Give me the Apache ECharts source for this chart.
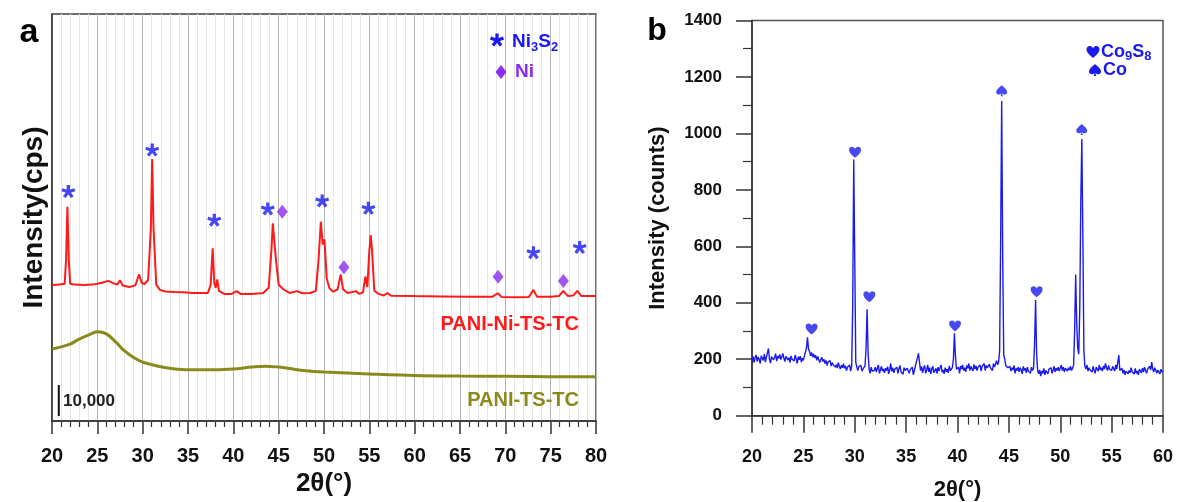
<!DOCTYPE html>
<html><head><meta charset="utf-8">
<script src="https://cdn.jsdelivr.net/npm/echarts@6/dist/echarts.min.js"></script>
<style>html,body{margin:0;padding:0;background:#fff}#c{width:1177px;height:502px}</style>
</head><body><div id="c"></div>
<script>
// ---------- Panel a : PANI-Ni-TS-TC (red) and PANI-TS-TC (olive), intensity in cps ----------
const redX = [20.0,20.8,21.4,21.55,21.7,21.85,22.0,22.5,23.5,24.5,25.5,26.2,26.8,27.2,27.5,27.8,28.5,29.2,29.6,29.9,30.2,30.6,30.9,31.05,31.2,31.5,31.9,32.5,33.5,34.5,35.5,36.5,37.2,37.5,37.72,37.9,38.05,38.23,38.4,39.0,39.8,40.37,40.8,42.0,43.3,43.9,44.2,44.35,44.5,44.7,45.0,45.5,46.2,47.0,47.6,48.5,49.1,49.4,49.65,49.85,50.05,50.3,50.6,51.0,51.5,51.84,52.1,52.6,53.1,53.5,53.9,54.3,54.56,54.78,55.0,55.15,55.3,55.55,56.0,56.6,56.98,57.4,60.0,63.0,66.0,68.6,69.15,69.6,71.0,72.6,73.09,73.5,75.0,75.9,76.4,76.9,77.5,77.94,78.4,80.0];
const redY = [43900,44000,44300,52000,69100,52000,44300,44000,43900,44000,44600,45200,44400,44000,45400,43700,43200,43800,47300,44500,44200,45500,62000,84500,62000,44000,42300,41800,41600,41500,41300,41300,41300,44000,55700,44500,43000,45700,42000,41000,41000,41900,41000,41000,41300,43000,55000,63800,63500,52000,44000,42500,41300,41900,41200,41300,42000,52000,64300,57000,58600,46000,42800,41700,42500,47300,42500,41300,41600,41900,41000,41500,46600,43200,55000,60000,55000,42000,41000,40500,41300,40400,40300,40200,40100,40100,41200,40000,39900,40000,42300,40100,40100,40300,42000,40300,40500,42000,40300,40300];
const oliveX = [20,21,22,23,24,25,26,27,28,29,30,31,32,33,35,37,40,42,43.5,45,46,48,50,55,60,65,70,75,80];
const oliveY = [23200,23900,24800,26400,27700,28800,28100,25600,22600,20500,19000,18200,17500,17000,16500,16500,16800,17400,17700,17400,17000,16200,15800,15200,14700,14500,14400,14300,14300];
const ni3s2Marks = [[21.8,74000],[31.05,87400],[37.9,64800],[43.8,68400],[49.8,71000],[54.9,68600],[73.1,54300],[78.2,56000]];
const niMarks = [[45.4,67500],[52.2,49600],[69.2,46500],[76.4,45200]];
const scaleBar = [[20.75,1600],[20.75,11600]];
const aTicks = {min:20, max:80, step:5};

// ---------- Panel b : Co9S8 / Co, intensity in counts ----------
const bStart = 20.0, bStep = 0.1;
const bY = [
195,210,188,205,215,192,208,200,185,212,
204,196,218,190,207,222,238,200,186,209,
214,198,206,220,193,211,203,217,199,208,
221,204,192,210,214,197,206,188,212,200,
207,194,215,201,185,209,198,211,190,204,
196,212,205,240,278,236,228,212,224,208,
219,205,214,196,210,203,188,199,207,192,
200,185,196,178,190,183,195,176,188,180,
186,172,181,169,188,175,165,179,170,184,
168,176,160,172,165,180,158,175,380,908,
560,190,172,160,175,168,178,158,166,170,
176,240,377,220,165,150,172,158,165,160,
172,155,168,180,150,162,175,158,166,152,
168,160,174,148,163,185,157,170,152,165,
158,172,150,166,178,155,162,147,170,160,
153,168,175,150,164,158,172,145,160,176,
182,205,221,190,160,175,152,168,178,150,
162,180,155,170,148,166,175,152,160,168,
150,172,158,165,180,154,162,148,170,156,
165,152,176,160,158,170,200,292,210,165,
158,172,150,176,165,180,160,170,155,178,
168,185,160,175,170,158,182,165,176,160,
172,165,180,158,175,168,185,160,178,170,
165,182,170,176,160,185,172,178,195,180,
190,230,620,1115,560,215,200,178,185,170,
165,175,158,170,162,178,150,168,160,172,
155,170,162,148,175,160,168,152,172,158,
165,150,172,160,168,250,410,220,160,148,
162,140,158,150,168,145,160,155,148,165,
158,170,150,162,175,155,168,160,172,158,
165,180,160,172,155,168,175,158,170,162,
175,160,168,180,300,500,330,240,218,380,
760,980,640,230,175,165,180,158,170,162,
168,155,175,160,150,172,165,158,180,162,
170,158,176,165,185,170,160,178,165,172,
160,175,168,158,180,165,172,215,160,155,
168,150,162,145,158,165,148,160,152,170,
155,162,148,168,150,158,145,165,160,152,
168,155,172,160,150,165,158,175,162,190,
165,155,170,160,150,162,158,148,165,155,
158];
const co9s8Marks = [[25.8,307],[30.03,933],[31.42,421],[39.76,318],[47.7,439]];
const coMarks = [[44.3,1151],[52.09,1014]];
const bXTicks = {min:20, max:60, step:5};
const bYTicks = {min:0, max:1400, step:200};

// ---------- symbols ----------
function asteriskPath(){
  const R=50,w=12,c=50; let d='';
  for(let k=0;k<5;k++){
    const t=(-90+72*k)*Math.PI/180, dx=Math.cos(t), dy=Math.sin(t), nx=-dy, ny=dx;
    const p=[[c+w*nx,c+w*ny],[c+w*nx+R*dx,c+w*ny+R*dy],[c-w*nx+R*dx,c-w*ny+R*dy],[c-w*nx,c-w*ny]];
    d+='M'+p.map(q=>q[0].toFixed(1)+','+q[1].toFixed(1)).join('L')+'Z';
  }
  return d;
}
const AST = asteriskPath();
const HEART = 'M50,92 C20,66 0,47 0,26 C0,10 12,0 26,0 C37,0 45,8 50,18 C55,8 63,0 74,0 C88,0 100,10 100,26 C100,47 80,66 50,92 Z';
const SPADE = 'M50,0 C20,25 0,44 0,62 C0,77 12,85 25,85 C35,85 43,80 47,72 L40,100 L60,100 L53,72 C57,80 65,85 75,85 C88,85 100,77 100,62 C100,44 80,25 50,0 Z';
const DIAMOND = 'M50,0 L100,50 L50,100 L0,50 Z';

// convert a simple absolute path (M/L/C/Z in a 0..100 box) into polygons placed in a pixel box
function pathPolys(d, cx, cy, w, h){
  const toks = d.match(/[MLCZ]|-?[\d.]+/g); const polys=[]; let cur=null, i=0, last=[0,0];
  let minX=1e9,minY=1e9,maxX=-1e9,maxY=-1e9;
  const nums = n => { const a=[]; for(let k=0;k<n;k++) a.push(parseFloat(toks[i++])); return a; };
  while(i<toks.length){
    const c = toks[i++];
    if(c==='M'){ const [x,y]=nums(2); cur=[[x,y]]; polys.push(cur); last=[x,y]; }
    else if(c==='L'){ const [x,y]=nums(2); cur.push([x,y]); last=[x,y]; }
    else if(c==='C'){ const [x1,y1,x2,y2,x,y]=nums(6); const [x0,y0]=last;
      for(let s=1;s<=10;s++){ const t=s/10, u=1-t;
        cur.push([u*u*u*x0+3*u*u*t*x1+3*u*t*t*x2+t*t*t*x, u*u*u*y0+3*u*u*t*y1+3*u*t*t*y2+t*t*t*y]); }
      last=[x,y]; }
  }
  polys.forEach(p=>p.forEach(q=>{minX=Math.min(minX,q[0]);maxX=Math.max(maxX,q[0]);minY=Math.min(minY,q[1]);maxY=Math.max(maxY,q[1]);}));
  return polys.map(p=>p.map(q=>[cx-w/2+(q[0]-minX)/(maxX-minX)*w, cy-h/2+(q[1]-minY)/(maxY-minY)*h]));
}
function symbolGraphic(d, cx, cy, w, h, color){
  return pathPolys(d,cx,cy,w,h).map(pts=>({type:'polygon', z:100, shape:{points:pts}, style:{fill:color}, silent:true}));
}

const F = '"Liberation Sans", Arial, sans-serif';
const BLUE = '#1a1aee', PURPLE = '#8a2cf0', RED = '#ff1a1a', OLIVE = '#8a8a1c';
const zip = (xs, ys) => xs.map((x,i)=>[x, ys[i]]);
const bData = bY.map((v,i)=>[+(bStart+i*bStep).toFixed(1), v]);
const txt = (x, y, text, font, fill, align) => ({type:'text', z:100, x, y, silent:true,
  style:{text, font, fill, align: align||'left', verticalAlign:'middle'}});

const chart = echarts.init(document.getElementById('c'));
const axisCol = '#333';
chart.setOption({
  animation:false,
  grid:[
    {left:52, top:14, width:544, height:407, show:true, borderColor:'#444', borderWidth:1.5, outerBoundsMode:'none'},
    {left:752, top:20.5, width:411, height:395.2, show:true, borderColor:'#555', borderWidth:1.5, outerBoundsMode:'none'}
  ],
  xAxis:[
    {gridIndex:0, type:'value', min:aTicks.min, max:aTicks.max, interval:aTicks.step,
     axisLine:{show:true, onZero:false, lineStyle:{color:axisCol, width:1.5}},
     axisTick:{show:true, length:13, lineStyle:{color:axisCol, width:1.5}},
     minorTick:{show:true, splitNumber:5, length:6, lineStyle:{color:axisCol, width:1.2}},
     axisLabel:{fontSize:20, fontWeight:'bold', color:'#111', margin:25, fontFamily:F, formatter:v=>String(v)},
     splitLine:{show:true, lineStyle:{color:'#b5b5b5', width:1}},
     minorSplitLine:{show:true, lineStyle:{color:'#e6e6e6', width:1}},
     name:'2θ(°)', nameLocation:'middle', nameGap:47,
     nameTextStyle:{fontSize:26, fontWeight:'bold', color:'#111', fontFamily:F}},
    {gridIndex:1, type:'value', min:bXTicks.min, max:bXTicks.max, interval:bXTicks.step,
     axisLine:{show:true, onZero:false, lineStyle:{color:axisCol, width:1.5}},
     axisTick:{show:true, length:17, lineStyle:{color:axisCol, width:1.5}},
     minorTick:{show:true, splitNumber:5, length:9, lineStyle:{color:axisCol, width:1.2}},
     axisLabel:{fontSize:18, fontWeight:'bold', color:'#111', margin:32, fontFamily:F, formatter:v=>String(v)},
     splitLine:{show:false},
     name:'2θ(°)', nameLocation:'middle', nameGap:63,
     nameTextStyle:{fontSize:22, fontWeight:'bold', color:'#111', fontFamily:F}}
  ],
  yAxis:[
    {gridIndex:0, type:'value', min:0, max:131300,
     axisLine:{show:true, onZero:false, lineStyle:{color:axisCol, width:1.5}},
     axisTick:{show:false}, axisLabel:{show:false}, splitLine:{show:false},
     name:'Intensity(cps)', nameLocation:'middle', nameGap:4,
     nameTextStyle:{fontSize:28, fontWeight:'bold', color:'#111', fontFamily:F}},
    {gridIndex:1, type:'value', min:bYTicks.min, max:bYTicks.max, interval:bYTicks.step,
     axisLine:{show:true, onZero:false, lineStyle:{color:axisCol, width:1.5}},
     axisTick:{show:true, length:16, lineStyle:{color:axisCol, width:1.5}},
     minorTick:{show:true, splitNumber:2, length:9, lineStyle:{color:axisCol, width:1.2}},
     axisLabel:{fontSize:17, fontWeight:'bold', color:'#111', margin:30, fontFamily:F, formatter:v=>String(v)},
     splitLine:{show:false},
     name:'Intensity (counts)', nameLocation:'middle', nameGap:83,
     nameTextStyle:{fontSize:22, fontWeight:'bold', color:'#111', fontFamily:F}}
  ],
  series:[
    {type:'line', xAxisIndex:0, yAxisIndex:0, data:zip(oliveX, oliveY), smooth:0.35, symbol:'none', silent:true,
     lineStyle:{color:OLIVE, width:3}, z:3},
    {type:'line', xAxisIndex:0, yAxisIndex:0, data:zip(redX, redY), symbol:'none', silent:true,
     lineStyle:{color:RED, width:2}, z:4},
    {type:'line', xAxisIndex:0, yAxisIndex:0, data:scaleBar, symbol:'none', silent:true,
     lineStyle:{color:'#111', width:2}, z:4},
    {type:'scatter', xAxisIndex:0, yAxisIndex:0, data:ni3s2Marks, symbol:'path://'+AST, symbolSize:[14,13], silent:true,
     itemStyle:{color:BLUE}, z:5},
    {type:'scatter', xAxisIndex:0, yAxisIndex:0, data:niMarks, symbol:'diamond', symbolSize:[11,14], silent:true,
     itemStyle:{color:PURPLE}, z:5},
    {type:'line', xAxisIndex:1, yAxisIndex:1, data:bData, symbol:'none', silent:true,
     lineStyle:{color:BLUE, width:1.4}, z:4},
    {type:'scatter', xAxisIndex:1, yAxisIndex:1, data:co9s8Marks, symbol:'path://'+HEART, symbolSize:[12,11], silent:true,
     itemStyle:{color:BLUE}, z:5},
    {type:'scatter', xAxisIndex:1, yAxisIndex:1, data:coMarks, symbol:'path://'+SPADE, symbolSize:[11,11], silent:true,
     itemStyle:{color:BLUE}, z:5}
  ],
  graphic:[
    txt(29, 33, 'a', 'bold 34px '+F, '#000', 'center'),
    txt(657, 31, 'b', 'bold 32px '+F, '#000', 'center'),
    ...symbolGraphic(AST, 497, 40, 14, 13, BLUE),
    {type:'text', z:100, x:512, y:42, silent:true, style:{text:'{m|Ni}{s|3}{m|S}{s|2}', verticalAlign:'middle', align:'left',
      rich:{m:{font:'bold 19px '+F, fill:BLUE, lineHeight:23, verticalAlign:'middle'},
            s:{font:'bold 13px '+F, fill:BLUE, lineHeight:13, verticalAlign:'bottom'}}}},
    ...symbolGraphic(DIAMOND, 501, 72, 11, 14, PURPLE),
    txt(515, 72, 'Ni', 'bold 19px '+F, PURPLE),
    txt(63, 401, '10,000', 'bold 17px '+F, '#222'),
    txt(579, 324, 'PANI-Ni-TS-TC', 'bold 20px '+F, RED, 'right'),
    txt(579, 400, 'PANI-TS-TC', 'bold 20px '+F, OLIVE, 'right'),
    ...symbolGraphic(HEART, 1093, 52, 13, 12, BLUE),
    {type:'text', z:100, x:1101, y:52, silent:true, style:{text:'{m|Co}{s|9}{m|S}{s|8}', verticalAlign:'middle', align:'left',
      rich:{m:{font:'bold 18px '+F, fill:BLUE, lineHeight:22, verticalAlign:'middle'},
            s:{font:'bold 13px '+F, fill:BLUE, lineHeight:13, verticalAlign:'bottom'}}}},
    ...symbolGraphic(SPADE, 1095, 70, 12, 12, BLUE),
    txt(1103, 70, 'Co', 'bold 18px '+F, BLUE)
  ]
});
</script></body></html>
